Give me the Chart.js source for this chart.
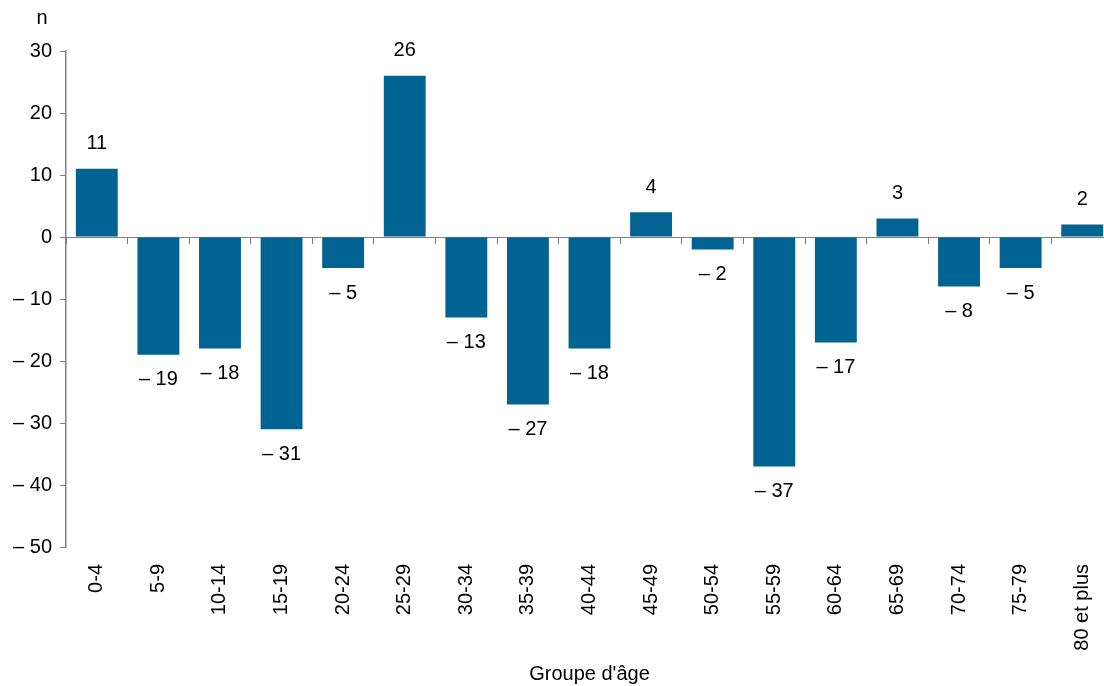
<!DOCTYPE html>
<html>
<head>
<meta charset="utf-8">
<script src="https://cdn.jsdelivr.net/npm/chart.js@4/dist/chart.umd.min.js"></script>
<style>
  html, body { margin: 0; padding: 0; background: #fff; overflow: hidden; }
  #wrap { width: 1104px; height: 686px; overflow: hidden; }
</style>
</head>
<body>
<div id="wrap"><canvas id="grafico" width="1113" height="686"></canvas></div>
<script>
// groupes d'age et variation (n)
var groupes = ["0-4","5-9","10-14","15-19","20-24","25-29","30-34","35-39","40-44","45-49","50-54","55-59","60-64","65-69","70-74","75-79","80 et plus"];
var valeurs = [11, -19, -18, -31, -5, 26, -13, -27, -18, 4, -2, -37, -17, 3, -8, -5, 2];
var ticksY = [-50, -40, -30, -20, -10, 0, 10, 20, 30];

var police = "'Liberation Sans', Arial, sans-serif";
var gris = "#808080";

function formatNombre(v){
	if(v<0) return "\u2013 " + Math.abs(v);
	return "" + v;
}

// etiquettes des valeurs + le "n" au dessus de l'axe
var etiquettes = {
	id: "etiquettes",
	afterDatasetsDraw: function(chart){
		var ctx = chart.ctx;
		var meta = chart.getDatasetMeta(0);
		ctx.save();
		ctx.font = "20px " + police;
		ctx.fillStyle = "#000";
		ctx.textAlign = "center";
		ctx.textBaseline = "middle";
		meta.data.forEach(function(barre, i){
			var v = valeurs[i];
			var y = v >= 0 ? barre.y - 25 : barre.y + 25;
			ctx.fillText(formatNombre(v), barre.x, y);
		});
		var sy = chart.scales.y;
		ctx.fillText("n", sy.right - 24, sy.top - 33);
		ctx.restore();
	}
};

new Chart(document.getElementById("grafico"), {
	type: "bar",
	data: {
		labels: groupes,
		datasets: [{
			data: valeurs,
			backgroundColor: "#006391",
			borderWidth: 0,
			categoryPercentage: 1,
			barPercentage: 0.68,
			xAxisID: "x",
			yAxisID: "y"
		}]
	},
	options: {
		responsive: false,
		animation: false,
		layout: { padding: { top: 51, left: 0, right: 0, bottom: 0 } },
		plugins: {
			legend: { display: false },
			tooltip: { enabled: false }
		},
		scales: {
			x: {
				type: "category",
				position: "bottom",
				border: { display: false },
				grid: { display: false, drawTicks: false },
				ticks: {
					color: "#000",
					font: { family: police, size: 20 },
					minRotation: 90,
					maxRotation: 90,
					padding: 17,
					autoSkip: false
				},
				title: {
					display: true,
					text: "Groupe d'âge",
					color: "#000",
					font: { family: police, size: 20 },
					padding: { top: 0, bottom: 0 }
				},
				afterFit: function(s){
					s.height = 139;
					s.paddingLeft = 0;
					s.paddingRight = 0;
				}
			},
			x2: {
				type: "category",
				position: { y: 0 },
				offset: true,
				border: { display: true, color: gris, width: 1 },
				grid: { offset: true, drawOnChartArea: false, drawTicks: true, tickLength: 6, color: gris },
				ticks: { display: false }
			},
			y: {
				min: -50,
				max: 30,
				position: "left",
				afterBuildTicks: function(s){
					s.ticks = ticksY.map(function(v){ return { value: v }; });
				},
				border: { display: true, color: gris, width: 1.5 },
				grid: { drawOnChartArea: false, drawTicks: true, tickLength: 6, color: gris },
				ticks: {
					color: "#000",
					font: { family: police, size: 20 },
					padding: 8,
					callback: function(v){ return formatNombre(v); }
				},
				afterFit: function(s){ s.width = 66; }
			}
		}
	},
	plugins: [etiquettes]
});
</script>
</body>
</html>
